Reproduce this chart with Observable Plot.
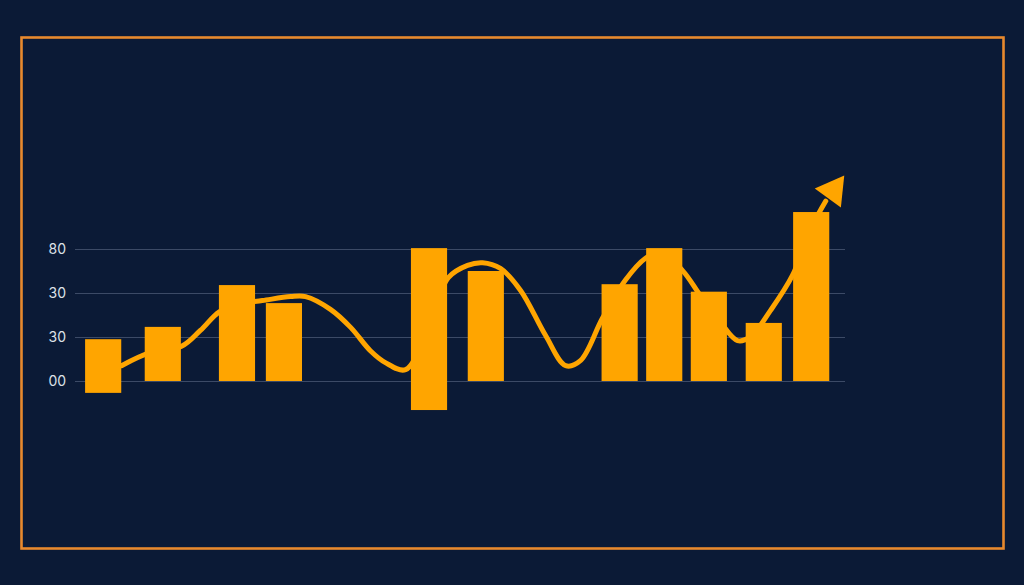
<!DOCTYPE html>
<html>
<head>
<meta charset="utf-8">
<script src="https://cdn.jsdelivr.net/npm/d3@7"></script>
<script src="https://cdn.jsdelivr.net/npm/@observablehq/plot@0.6"></script>
<style>
  html, body { margin: 0; padding: 0; background: #0b1a36; }
  #chart { width: 1024px; height: 585px; }
</style>
</head>
<body>
<div id="chart"></div>
<script>
// Bars: center position (period units), top value, bottom value
const barPos    = [0.60, 1.87, 3.45, 4.45, 7.54, 8.75, 11.60, 12.55, 13.50, 14.67, 15.68];
const barTop    = [9.5, 12.3, 21.8, 17.7, 30.2, 25.0, 22.0, 30.2, 20.3, 13.2, 38.4];
const barBottom = [-2.7, 0, 0, 0, -6.6, 0, 0, 0, 0, 0, 0];

// Trend line
const lineX = [0.98, 1.60, 2.26, 2.66, 3.07, 3.51, 3.98, 4.58, 4.90, 5.43, 5.86, 6.28, 6.60, 7.03,
               7.50, 7.94, 8.35, 8.67, 9.05, 9.48, 10.01, 10.44, 10.76, 11.22, 11.71, 12.14, 12.46,
               12.93, 13.31, 13.74, 14.10, 14.38, 14.80, 15.27, 15.70, 15.98];
const lineY = [3.6, 6.6, 8.0, 11.6, 15.9, 17.7, 18.4, 19.3, 19.3, 16.4, 12.3, 7.0, 4.3, 2.7,
               12.0, 23.6, 26.4, 27.0, 25.7, 20.7, 10.5, 3.6, 4.8, 14.3, 23.0, 28.0, 29.3,
               25.2, 19.5, 13.4, 9.3, 10.2, 16.1, 24.1, 35.5, 41.0];
const arrowTip = {x: 16.14, y: 43.4};

// Y axis ticks and their labels
const tickValues = [0, 10, 20, 30];
const tickLabels = ["00", "30", "30", "80"];

const bars = barPos.map((p, i) => ({x: p, top: barTop[i], bottom: barBottom[i]}));
const line = lineX.map((x, i) => ({x, y: lineY[i]}));
const half = 0.385;
const orange = "#ffa500";

const chart = Plot.plot({
  width: 1024,
  height: 585,
  marginLeft: 75,
  marginRight: 179,
  marginTop: 161,
  marginBottom: 160,
  style: {background: "transparent", fontFamily: "Inter, 'Open Sans', sans-serif"},
  x: {domain: [0, 16.4], axis: null},
  y: {domain: [-10, 50], axis: null},
  marks: [
    Plot.frame({stroke: "#e8892e", strokeWidth: 2.6,
      insetLeft: -54, insetRight: -158, insetTop: -124, insetBottom: -123}),
    Plot.ruleY(tickValues, {stroke: "#3c4a66", strokeWidth: 1}),
    Plot.text(tickValues, {x: 0, y: d => d, text: (d, i) => tickLabels[i],
      textAnchor: "start", dx: -27, fill: "#dde1e8", fontSize: 14}),
    Plot.line(line, {x: "x", y: "y", curve: "catmull-rom", stroke: orange, strokeWidth: 5}),
    Plot.dot([arrowTip], {x: "x", y: "y", symbol: "triangle", r: 12, rotate: 36, fill: orange}),
    Plot.rect(bars, {x1: d => d.x - half, x2: d => d.x + half, y1: "bottom", y2: "top", fill: orange})
  ]
});
document.getElementById("chart").appendChild(chart);
</script>
</body>
</html>
